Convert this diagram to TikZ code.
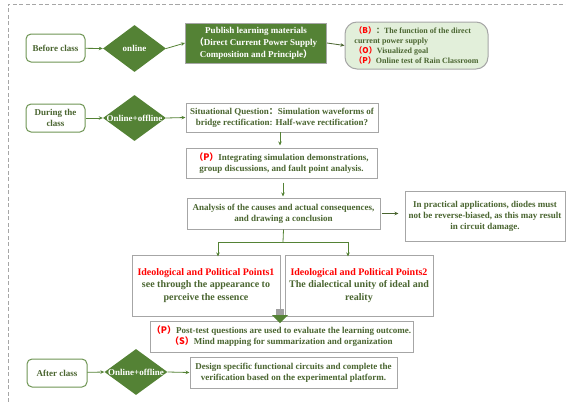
\documentclass[tikz,border=0pt]{standalone}
\usepackage{fontspec}
\setmainfont{Liberation Serif}
\newfontfamily\cjk{Noto Sans CJK SC}
\usetikzlibrary{shapes.geometric,arrows.meta}
\definecolor{dg}{HTML}{548235}
\definecolor{tg}{HTML}{4A6530}
\definecolor{bd}{HTML}{A6A6A6}
\definecolor{lg}{HTML}{E2EFDA}
\newcommand{\rd}[1]{{\color{red}\cjk #1}}
\begin{document}
\begin{tikzpicture}[x=1pt,y=-1pt,
  font=\bfseries\fontsize{9}{11}\selectfont,
  phase/.style={draw=dg!85, line width=1pt, fill=white, text=tg, rounded corners=5pt,
    minimum width=59pt, minimum height=28pt, inner sep=1pt, align=center},
  dia/.style={diamond, fill=dg, minimum width=63pt, minimum height=47pt, inner sep=0pt},
  dtext/.style={text=white},
  box/.style={draw=bd, line width=1pt, fill=white, text=tg, align=center, inner sep=1pt},
  arr/.style={draw=dg, line width=0.8pt, -{Stealth[length=4pt,width=3.5pt]}},
]
\useasboundingbox (0,0) rectangle (566,402);
% dashed frame
\draw[gray!70, line width=0.8pt, dash pattern=on 4pt off 2.5pt] (8,402) -- (8,4) -- (566,4);

% Before class
\node[phase] (b1) at (55.5,48) {Before class};
\node[dia] (d1) at (134.5,48.5) {};
\node[dtext] at (d1.center) {online};
\node[box, fill=dg, text=white, minimum width=141pt, minimum height=40pt, font=\bfseries\fontsize{9}{12}\selectfont] (pub) at (256,43)
  {Publish learning materials\\{\cjk （}Direct Current Power Supply\\Composition and Principle{\cjk ）}};
\node[draw=bd, line width=1pt, fill=lg, rounded corners=12pt, text=tg, align=left,
  minimum width=143pt, minimum height=47pt, inner sep=2pt,
  font=\bfseries\fontsize{8}{10}\selectfont] (rb) at (416.5,45.5)
  {\rd{（B）}{\cjk ：}The function of the direct\\current power supply\\\rd{（O）}Visualized goal\\\rd{（P）}Online test of Rain Classroom};
\draw[arr] (b1) -- (d1.west);
\draw[arr] (d1.east) -- (pub.west);
\draw[arr, draw=tg] (pub.east) -- (rb.west);

% During the class
\node[phase] (b2) at (55.5,118) {During the\\class};
\node[dia, minimum height=46pt] (d2) at (134.5,118) {};
\node[dtext] at (d2.center) {Online+offline};
\node[box, minimum width=192pt, minimum height=29pt] (s1) at (282,117.5)
  {Situational Question{\cjk ：}Simulation waveforms of\\bridge rectification: Half-wave rectification?};
\node[box, minimum width=191pt, minimum height=30pt] (s2) at (281.5,163)
  {\rd{（P）}Integrating simulation demonstrations,\\group discussions, and fault point analysis.};
\node[box, minimum width=193pt, minimum height=31pt] (s3) at (283.5,213.5)
  {Analysis of the causes and actual consequences,\\and drawing a conclusion};
\node[box, minimum width=160pt, minimum height=50pt] (note) at (485,216)
  {In practical applications, diodes must\\not be reverse-biased, as this may result\\in circuit damage.};
\node[box, minimum width=148pt, minimum height=61pt, font=\bfseries\fontsize{10}{12.5}\selectfont] (ip1) at (206,285.5)
  {{\color{red}Ideological and Political Points1}\\see through the appearance to\\perceive the essence};
\node[box, minimum width=148pt, minimum height=61pt, font=\bfseries\fontsize{10}{12.5}\selectfont] (ip2) at (359,285.5)
  {{\color{red}Ideological and Political Points2}\\The dialectical unity of ideal and\\reality};
\node[box, minimum width=263pt, minimum height=31pt] (post) at (281.5,336.5)
  {\rd{（P）}Post-test questions are used to evaluate the learning outcome.\\\rd{（S）}Mind mapping for summarization and organization};

\draw[arr] (b2) -- (d2.west);
\draw[arr] (d2.east) -- (s1.west);
\draw[arr] (280,132) -- (280,145.5);
\draw[arr] (283,182.5) -- (283,196.5);
\draw[arr, draw=tg] ([xshift=1pt]s3.east) -- ([xshift=-6pt]note.west |- s3.east);
\coordinate (split) at (283,242);
\draw[dg, line width=0.8pt] (s3.south) -- (split);
\draw[arr] (split) -| ([yshift=-2pt]ip1.north -| 218,0);
\draw[arr] (split) -| ([yshift=-2pt]ip2.north -| 348,0);

% block arrow
\fill[gray!75] (276,309) rectangle (284,315);
\fill[dg] (272,315) -- (288,315) -- (280,323) -- cycle;

% After class
\node[phase, minimum width=60pt] (b3) at (57,373) {After class};
\node[dia, minimum height=46pt] (d3) at (136,372) {};
\node[dtext] at (d3.center) {Online+offline};
\node[box, minimum width=207pt, minimum height=31pt] (des) at (293.5,372.5)
  {Design specific functional circuits and complete the\\verification based on the experimental platform.};
\draw[arr] (b3) -- (d3.west);
\draw[arr] (d3.east) -- (des.west);
\end{tikzpicture}
\end{document}
